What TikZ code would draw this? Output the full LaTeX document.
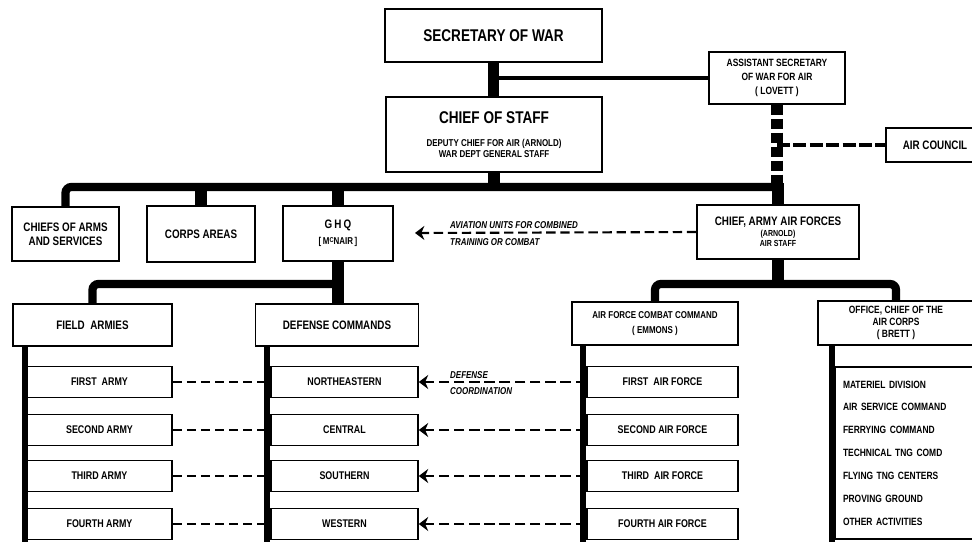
\documentclass[tikz,border=0pt]{standalone}
\usepackage{fontspec}
\setmainfont{Liberation Sans}[FakeStretch=0.8]
\usetikzlibrary{arrows.meta}

\newcommand{\smalltxt}{\fontsize{8.5}{9.5}\selectfont}
\newcommand{\tinytxt}{\fontsize{7.5}{9}\selectfont}

\begin{document}
\begin{tikzpicture}[x=0.03cm, y=-0.03cm]
    % ================= styles =================
    \tikzset{
        % white box, heavy black frame
        unit/.style={draw=black, line width=1.4pt, fill=white, inner sep=2pt, align=center, font=\bfseries\fontsize{10.5}{12}\selectfont},
        bigunit/.style={unit, font=\bfseries\fontsize{14.5}{16}\selectfont},
        subunit/.style={unit, font=\bfseries\fontsize{9.5}{11}\selectfont},
        smallunit/.style={unit, font=\bfseries\fontsize{9}{12}\selectfont},
        % italic remarks along the dashed lines
        note/.style={inner sep=0pt, align=left, font=\bfseries\itshape\fontsize{8.5}{10}\selectfont},
        % lines of command
        trunk/.style={line width=10pt},
        stub/.style={line width=10pt},
        bus/.style={line width=7pt, rounded corners=5pt},
        link/.style={line width=4.2pt},
        spine/.style={line width=5pt},
        % dashed relations
        dotline/.style={line width=11pt, dash pattern=on 8.5pt off 3.4pt},
        dashlink/.style={line width=4.2pt, dash pattern=on 11pt off 3pt},
        liaison/.style={line width=1.8pt, dash pattern=on 8pt off 4pt},
        coord/.style={line width=2.4pt, dash pattern=on 9pt off 4pt, -{Stealth[length=8pt, width=12pt]}}
    }

    \useasboundingbox (0,0) rectangle (972,542);
    \clip (0,0) rectangle (972,542);

    % ================= top: war department =================
    \node[bigunit, minimum width=6.51cm, minimum height=1.59cm] (sow) at (493.5,35.5) {SECRETARY OF WAR};
    \node[bigunit, minimum width=6.48cm, minimum height=2.25cm] (cos) at (494,134.5)
        {CHIEF OF STAFF\\[3.5pt]\smalltxt DEPUTY CHIEF FOR AIR (ARNOLD)\\[-6.5pt]\smalltxt WAR DEPT GENERAL STAFF};
    \node[smallunit, minimum width=4.08cm, minimum height=1.56cm] (asw) at (777,78)
        {ASSISTANT SECRETARY\\OF WAR FOR AIR\\( LOVETT )};
    \node[unit, minimum width=2.94cm, minimum height=1.02cm] (council) at (935,145) {AIR COUNCIL};

    \draw[trunk] (sow.south) -- (sow.south |- cos.north);
    \draw[link] (cos.north |- asw.west) -- (asw.west);
    \draw[dotline] (asw.south) -- (asw.south |- 0,187);
    \draw[dashlink] (asw.south |- council.west) -- (council.west);

    % ================= second row =================
    \node[unit, minimum width=3.21cm, minimum height=1.62cm] (chiefs) at (65.5,234) {CHIEFS OF ARMS\\AND SERVICES};
    \node[unit, minimum width=3.24cm, minimum height=1.68cm] (corps) at (201,234) {CORPS AREAS};
    \node[unit, minimum width=3.30cm, minimum height=1.65cm] (ghq) at (338,233.5)
        {G\,H\,Q\\[2pt]\smalltxt{[}\,M\raisebox{2pt}{\fontsize{6}{6}\selectfont C}NAIR\,{]}};
    \node[unit, minimum width=4.86cm, minimum height=1.62cm] (caaf) at (778,232)
        {CHIEF, ARMY AIR FORCES\\[-3pt]\tinytxt (ARNOLD)\\[-3.5pt]\tinytxt AIR STAFF};

    % main bus below the chief of staff
    \coordinate (busA) at (494,187);
    \draw[trunk] (cos.south) -- (cos.south |- busA);
    \draw[bus] (chiefs.north) |- (caaf.north |- busA) -- (caaf.north);
    \draw[stub] (corps.north) -- (corps.north |- busA);
    \draw[stub] (ghq.north) -- (ghq.north |- busA);
    \draw[stub] (caaf.north) -- ([yshift=3pt]caaf.north |- busA);

    % aviation units for ghq
    \coordinate (aviTip) at (415,233);
    \draw[line width=1.8pt, dash pattern=on 8pt off 4pt, -{Stealth[length=8pt, width=12pt]}] (caaf.west) -- (aviTip);
    \node[note, anchor=south west] (aviA) at (450,229) {AVIATION UNITS FOR COMBINED};
    \node[note, anchor=north west] (aviB) at (450,238) {TRAINING OR COMBAT};

    % ================= ground side =================
    \node[unit, minimum width=4.77cm, minimum height=1.26cm] (fa) at (92.5,325) {FIELD~~ARMIES};
    \node[unit, minimum width=4.89cm, minimum height=1.26cm] (dc) at (337,325) {DEFENSE COMMANDS};

    \coordinate (busB) at (338,284);
    \draw[stub] (ghq.south) -- (ghq.south |- dc.north);
    \draw[bus] (fa.north) |- (ghq.south |- busB);

    \node[subunit, minimum width=4.35cm, minimum height=0.93cm] (fa1) at (99.5,382) {FIRST~~ARMY};
    \node[subunit, minimum width=4.35cm, minimum height=0.93cm] (fa2) at (99.5,430) {SECOND ARMY};
    \node[subunit, minimum width=4.35cm, minimum height=0.93cm] (fa3) at (99.5,476) {THIRD ARMY};
    \node[subunit, minimum width=4.35cm, minimum height=0.93cm] (fa4) at (99.5,524) {FOURTH ARMY};

    \node[subunit, minimum width=4.41cm, minimum height=0.93cm] (dc1) at (344.5,382) {NORTHEASTERN};
    \node[subunit, minimum width=4.41cm, minimum height=0.93cm] (dc2) at (344.5,430) {CENTRAL};
    \node[subunit, minimum width=4.41cm, minimum height=0.93cm] (dc3) at (344.5,476) {SOUTHERN};
    \node[subunit, minimum width=4.41cm, minimum height=0.93cm] (dc4) at (344.5,524) {WESTERN};

    % armies to defense commands
    \draw[liaison] (fa1.east) -- (dc1.west);
    \draw[liaison] (fa2.east) -- (dc2.west);
    \draw[liaison] (fa3.east) -- (dc3.west);
    \draw[liaison] (fa4.east) -- (dc4.west);

    \coordinate (faEnd) at (25,542);
    \coordinate (dcEnd) at (267,542);
    \draw[spine] (fa.south -| faEnd) -- (faEnd);
    \draw[spine] (dc.south -| dcEnd) -- (dcEnd);

    % ================= air side =================
    \node[smallunit, font=\bfseries\fontsize{8.5}{11}\selectfont, minimum width=4.98cm, minimum height=1.29cm] (afcc) at (655,323.5)
        {AIR FORCE COMBAT COMMAND\\[2pt]( EMMONS )};
    \node[smallunit, font=\bfseries\fontsize{9}{10}\selectfont, minimum width=4.68cm, minimum height=1.32cm] (ocac) at (896,323)
        {OFFICE, CHIEF OF THE\\AIR CORPS\\( BRETT )};

    \coordinate (busC) at (778,284);
    \draw[stub] (caaf.south) -- (caaf.south |- busC);
    \draw[bus] (afcc.north) |- (ocac.north |- busC) -- (ocac.north);

    \node[subunit, minimum width=4.53cm, minimum height=0.93cm] (af1) at (662.5,382) {FIRST~~AIR FORCE};
    \node[subunit, minimum width=4.53cm, minimum height=0.93cm] (af2) at (662.5,430) {SECOND AIR FORCE};
    \node[subunit, minimum width=4.53cm, minimum height=0.93cm] (af3) at (662.5,476) {THIRD~~AIR FORCE};
    \node[subunit, minimum width=4.53cm, minimum height=0.93cm] (af4) at (662.5,524) {FOURTH AIR FORCE};

    % air forces to defense commands
    \draw[coord] (af1.west) -- (dc1.east);
    \draw[coord] (af2.west) -- (dc2.east);
    \draw[coord] (af3.west) -- (dc3.east);
    \draw[coord] (af4.west) -- (dc4.east);
    \node[note, anchor=south west] (defA) at (450,379) {DEFENSE};
    \node[note, anchor=north west] (defB) at (450,387) {COORDINATION};

    \node[unit, font=\bfseries\fontsize{9}{19.5}\selectfont, align=left, text width=3.69cm, inner xsep=0.24cm, minimum height=5.16cm] (acsub) at (904.5,453)
        {MATERIEL DIVISION\\AIR SERVICE COMMAND\\FERRYING COMMAND\\TECHNICAL TNG COMD\\FLYING TNG CENTERS\\PROVING GROUND\\OTHER ACTIVITIES};

    \coordinate (afEnd) at (583,542);
    \coordinate (ocEnd) at (832,542);
    \draw[spine] (afcc.south -| afEnd) -- (afEnd);
    \draw[spine] (ocac.south -| ocEnd) -- (ocEnd);

\end{tikzpicture}
\end{document}
